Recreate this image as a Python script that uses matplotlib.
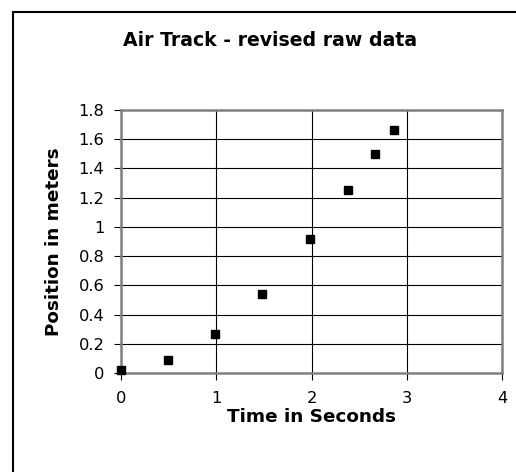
import matplotlib
matplotlib.use("Agg")
import matplotlib.pyplot as plt
from matplotlib.patches import Rectangle

plt.rcParams['font.family'] = ['DejaVu Sans']

time_s = [0.0, 0.49, 0.99, 1.48, 1.98, 2.38, 2.67, 2.87]
position_m = [0.02, 0.09, 0.27, 0.54, 0.92, 1.25, 1.50, 1.66]
x_ticks = [0, 1, 2, 3, 4]
y_ticks = [0, 0.2, 0.4, 0.6, 0.8, 1.0, 1.2, 1.4, 1.6, 1.8]
y_tick_labels = ['0', '0.2', '0.4', '0.6', '0.8', '1', '1.2', '1.4', '1.6', '1.8']

W, H = 516, 472
fig = plt.figure(figsize=(W / 100, H / 100), dpi=100)

# outer chart border (right/bottom are cut off in the reference)
fig.patches.append(Rectangle((12.5 / W, -0.1), 1.2, 1 - 12 / H + 0.1,
                             transform=fig.transFigure, fill=False,
                             edgecolor='black', linewidth=1.5))

ax = fig.add_axes([121 / W, 1 - 373 / H, (502 - 121) / W, (373 - 110) / H])
ax.set_xlim(0, 4)
ax.set_ylim(0, 1.8)
ax.set_xticks(x_ticks)
ax.set_yticks(y_ticks)
ax.set_yticklabels(y_tick_labels)
ax.grid(True, color='black', linewidth=0.8)
ax.set_axisbelow(True)
for s in ax.spines.values():
    s.set_color('#808080')
    s.set_linewidth(1.8)
ax.tick_params(axis='both', direction='out', length=5, width=0.8, color='black',
               labelsize=11.7)
ax.tick_params(axis='y', pad=7)
ax.tick_params(axis='x', pad=8)

ax.plot(time_s, position_m, linestyle='none', marker='s', markersize=5.2,
        color='black', clip_on=False, zorder=5)

fig.text(270 / W, 1 - 41 / H, 'Air Track - revised raw data', ha='center', va='center',
         fontsize=13.6, fontweight='bold')
ax.set_xlabel('Time in Seconds', fontsize=13.2, fontweight='bold', labelpad=1.5)
ax.set_ylabel('Position in meters', fontsize=13.2, fontweight='bold', labelpad=11)

fig.savefig('out.png', dpi=100)
